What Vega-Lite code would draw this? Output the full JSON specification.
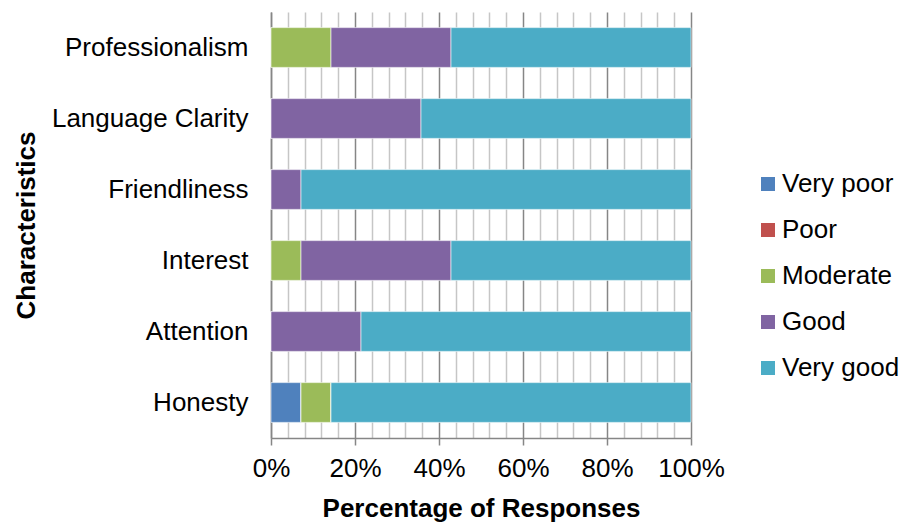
{
  "$schema": "https://vega.github.io/schema/vega-lite/v6.json",
  "width": 420,
  "height": 426,
  "autosize": {"type": "none"},
  "padding": {"left": 271, "top": 12, "right": 213, "bottom": 86},
  "background": "white",
  "config": {
    "view": {"stroke": null},
    "font": "Liberation Sans"
  },
  "data": {
    "values": [
      {"item": "Professionalism", "rating": "Very poor", "rank": 1, "count": 0},
      {"item": "Professionalism", "rating": "Poor", "rank": 2, "count": 0},
      {"item": "Professionalism", "rating": "Moderate", "rank": 3, "count": 2},
      {"item": "Professionalism", "rating": "Good", "rank": 4, "count": 4},
      {"item": "Professionalism", "rating": "Very good", "rank": 5, "count": 8},
      {"item": "Language Clarity", "rating": "Very poor", "rank": 1, "count": 0},
      {"item": "Language Clarity", "rating": "Poor", "rank": 2, "count": 0},
      {"item": "Language Clarity", "rating": "Moderate", "rank": 3, "count": 0},
      {"item": "Language Clarity", "rating": "Good", "rank": 4, "count": 5},
      {"item": "Language Clarity", "rating": "Very good", "rank": 5, "count": 9},
      {"item": "Friendliness", "rating": "Very poor", "rank": 1, "count": 0},
      {"item": "Friendliness", "rating": "Poor", "rank": 2, "count": 0},
      {"item": "Friendliness", "rating": "Moderate", "rank": 3, "count": 0},
      {"item": "Friendliness", "rating": "Good", "rank": 4, "count": 1},
      {"item": "Friendliness", "rating": "Very good", "rank": 5, "count": 13},
      {"item": "Interest", "rating": "Very poor", "rank": 1, "count": 0},
      {"item": "Interest", "rating": "Poor", "rank": 2, "count": 0},
      {"item": "Interest", "rating": "Moderate", "rank": 3, "count": 1},
      {"item": "Interest", "rating": "Good", "rank": 4, "count": 5},
      {"item": "Interest", "rating": "Very good", "rank": 5, "count": 8},
      {"item": "Attention", "rating": "Very poor", "rank": 1, "count": 0},
      {"item": "Attention", "rating": "Poor", "rank": 2, "count": 0},
      {"item": "Attention", "rating": "Moderate", "rank": 3, "count": 0},
      {"item": "Attention", "rating": "Good", "rank": 4, "count": 3},
      {"item": "Attention", "rating": "Very good", "rank": 5, "count": 11},
      {"item": "Honesty", "rating": "Very poor", "rank": 1, "count": 1},
      {"item": "Honesty", "rating": "Poor", "rank": 2, "count": 0},
      {"item": "Honesty", "rating": "Moderate", "rank": 3, "count": 1},
      {"item": "Honesty", "rating": "Good", "rank": 4, "count": 0},
      {"item": "Honesty", "rating": "Very good", "rank": 5, "count": 12}
    ]
  },
  "mark": {"type": "bar", "stroke": "white", "strokeWidth": 0.6},
  "encoding": {
    "y": {
      "field": "item",
      "type": "nominal",
      "sort": ["Professionalism", "Language Clarity", "Friendliness", "Interest", "Attention", "Honesty"],
      "scale": {"paddingInner": 0.44, "paddingOuter": 0.22},
      "axis": {
        "title": "Characteristics",
        "titleFont": "Liberation Sans",
        "titleFontSize": 26,
        "titleFontWeight": "bold",
        "titleColor": "black",
        "titlePadding": 32,
        "labelFont": "Liberation Sans",
        "labelFontSize": 26,
        "labelColor": "black",
        "labelPadding": 23,
        "labelLimit": 400,
        "ticks": false,
        "domainColor": "#868686",
        "domainWidth": 1.5
      }
    },
    "x": {
      "field": "count",
      "type": "quantitative",
      "stack": "normalize",
      "scale": {"domain": [0, 1], "nice": false},
      "axis": {
        "title": "Percentage of Responses",
        "titleFont": "Liberation Sans",
        "titleFontSize": 26,
        "titleFontWeight": "bold",
        "titleColor": "black",
        "titlePadding": 14,
        "values": [0, 0.04, 0.08, 0.12, 0.16, 0.2, 0.24, 0.28, 0.32, 0.36, 0.4, 0.44, 0.48, 0.52, 0.56, 0.6, 0.64, 0.68, 0.72, 0.76, 0.8, 0.84, 0.88, 0.92, 0.96, 1],
        "labelExpr": "round(datum.value * 100) % 20 === 0 ? format(datum.value, '.0%') : ''",
        "labelOverlap": false,
        "labelFont": "Liberation Sans",
        "labelFontSize": 26,
        "labelColor": "black",
        "labelPadding": 10,
        "labelFlush": false,
        "grid": true,
        "gridColor": {"condition": {"test": "round(datum.value * 100) % 20 === 0", "value": "#868686"}, "value": "#c6c6c6"},
        "gridWidth": 1.5,
        "tickSize": {"condition": {"test": "round(datum.value * 100) % 20 === 0", "value": 7}, "value": 0},
        "tickColor": "#868686",
        "tickWidth": 1.5,
        "domainColor": "#868686",
        "domainWidth": 1.5
      }
    },
    "color": {
      "field": "rating",
      "type": "nominal",
      "scale": {
        "domain": ["Very poor", "Poor", "Moderate", "Good", "Very good"],
        "range": ["#4f81bd", "#c0504d", "#9bbb59", "#8064a2", "#4bacc6"]
      },
      "legend": {
        "title": null,
        "orient": "none",
        "legendX": 484,
        "legendY": 159,
        "padding": 0,
        "symbolType": "square",
        "symbolSize": 196,
        "symbolStrokeWidth": 0,
        "labelFont": "Liberation Sans",
        "labelFontSize": 26,
        "labelColor": "black",
        "labelOffset": 1,
        "rowPadding": 20
      }
    },
    "order": {"field": "rank", "type": "quantitative"}
  }
}
